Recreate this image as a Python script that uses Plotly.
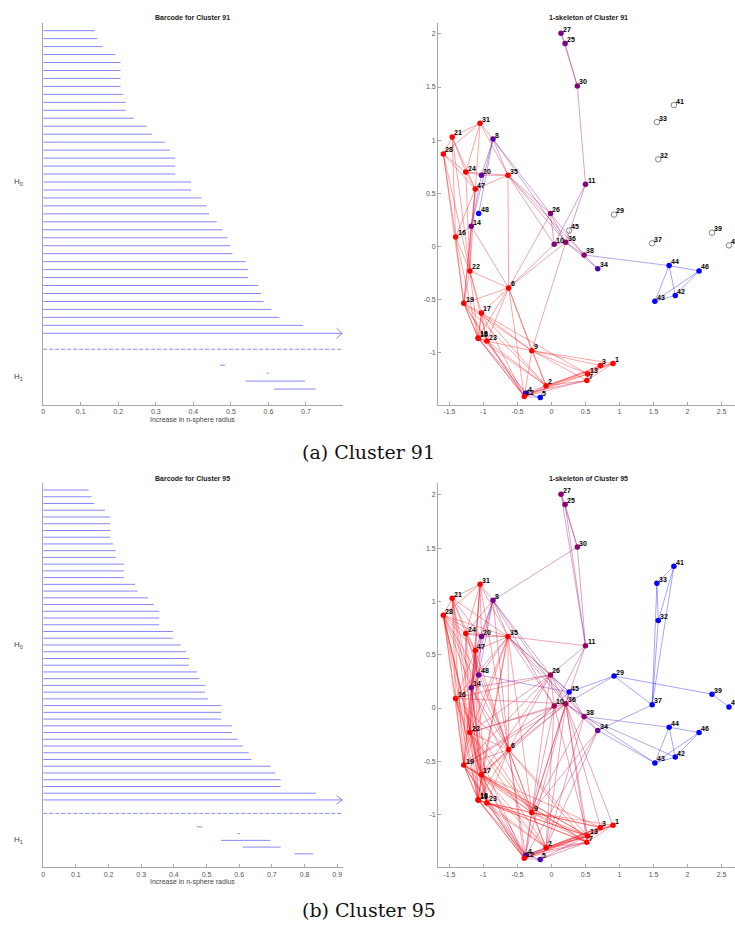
import math
import plotly.graph_objects as go

# ---------------- persistence barcodes ----------------
# H0 deaths (births are all 0); inf marks the bar that never dies
h0_deaths_91 = [0.137, 0.144, 0.158, 0.192, 0.206, 0.206, 0.206, 0.206, 0.213, 0.220,
                0.220, 0.241, 0.276, 0.290, 0.324, 0.338, 0.352, 0.352, 0.352, 0.394,
                0.394, 0.422, 0.435, 0.442, 0.462, 0.477, 0.491, 0.498, 0.504, 0.539,
                0.546, 0.546, 0.573, 0.580, 0.587, 0.608, 0.629, 0.692, math.inf]
h1_births_91 = [0.470, 0.595, 0.539, 0.615]
h1_deaths_91 = [0.484, 0.601, 0.698, 0.726]

h0_deaths_95 = [0.139, 0.148, 0.156, 0.189, 0.205, 0.205, 0.205, 0.205, 0.214, 0.222,
                0.222, 0.247, 0.247, 0.247, 0.281, 0.289, 0.321, 0.339, 0.355, 0.355,
                0.355, 0.397, 0.397, 0.421, 0.437, 0.446, 0.446, 0.470, 0.478, 0.495,
                0.495, 0.504, 0.545, 0.545, 0.545, 0.578, 0.578, 0.595, 0.611, 0.629,
                0.637, 0.695, 0.711, 0.727, 0.727, 0.835, math.inf]
h1_births_95 = [0.470, 0.595, 0.544, 0.611, 0.769]
h1_deaths_95 = [0.487, 0.603, 0.695, 0.727, 0.827]

radius_max_91 = 0.798
radius_max_95 = 0.917
radius_ticks_91 = [0, 0.1, 0.2, 0.3, 0.4, 0.5, 0.6, 0.7]
radius_ticks_95 = [0, 0.1, 0.2, 0.3, 0.4, 0.5, 0.6, 0.7, 0.8, 0.9]

# ---------------- 1-skeleton nodes ----------------
node_ids = list(range(1, 49))
node_x = [0.905, -0.08, 0.72, -0.38, -0.165, -0.63, 0.52, -0.86, -0.29, 0.04,
          0.50, -0.40, 0.53, -1.18, -1.075, -1.41, -1.03, -1.08, -1.29, -1.03,
          -1.46, -1.20, -0.95, -1.26, 0.20, -0.015, 0.14, -1.59, 0.92, 0.38,
          -1.05, 1.57, 1.55, 0.68, -0.64, 0.21, 1.48, 0.48, 2.36, 2.61,
          1.80, 1.82, 1.52, 1.73, 0.26, 2.17, -1.12, -1.07]
node_y = [-1.10, -1.31, -1.12, -1.38, -1.42, -0.39, -1.26, 1.01, -0.98, 0.02,
          0.585, -1.41, -1.20, 0.19, -0.865, 0.09, -0.625, -0.86, -0.535, 0.67,
          1.03, -0.23, -0.89, 0.70, 1.91, 0.31, 2.005, 0.87, 0.30, 1.51,
          1.16, 0.82, 1.17, -0.21, 0.67, 0.04, 0.03, -0.08, 0.13, 0.01,
          1.33, -0.46, -0.515, -0.18, 0.15, -0.23, 0.54, 0.31]

# red share of each node colour (1 = red, 0 = blue, None = not in any edge)
mix_91 = [1, 1, 1, 0.15, 0, 1, 1, 0.35, 1, 0.55,
          0.5, 1, 1, 0.45, 1, 1, 1, 1, 1, 0.35,
          1, 1, 1, 1, 0.5, 0.55, 0.5, 1, None, 0.5,
          1, None, None, 0.3, 1, 0.55, None, 0.55, None, None,
          None, 0, 0, 0, None, 0, 1, 0]
mix_95 = [1, 1, 1, 0.3, 0.3, 1, 1, 0.45, 1, 0.65,
          0.6, 1, 1, 0.45, 1, 1, 1, 1, 1, 0.45,
          1, 1, 1, 1, 0.55, 0.65, 0.55, 1, 0, 0.55,
          1, 0, 0, 0.4, 1, 0.65, 0, 0.55, 0, 0,
          0, 0, 0, 0, 0, 0, 1, 0.4]

edges_91 = [
    (31, 21), (31, 28), (31, 8), (31, 35), (31, 24), (31, 47),
    (21, 28), (21, 24), (21, 47), (21, 16), (21, 22),
    (28, 24), (28, 47), (28, 16), (28, 19), (28, 22),
    (8, 20), (8, 48), (8, 35), (8, 26), (8, 36), (8, 14),
    (24, 20), (24, 35), (24, 47), (24, 22),
    (20, 35), (20, 14),
    (35, 47), (35, 6), (35, 26), (35, 10), (35, 36), (35, 38),
    (47, 14), (47, 16), (47, 22), (47, 19),
    (14, 16), (14, 22), (14, 19), (14, 6),
    (16, 22), (16, 19), (16, 18),
    (22, 6), (22, 19), (22, 17), (22, 18), (22, 23),
    (6, 26), (6, 10), (6, 36), (6, 19), (6, 17), (6, 18), (6, 23), (6, 9), (6, 2), (6, 12),
    (19, 17), (19, 18), (19, 23), (19, 9), (19, 2), (19, 12),
    (17, 18), (17, 23), (17, 9), (17, 2), (17, 12), (17, 13),
    (18, 23), (18, 12), (18, 2), (18, 4),
    (15, 18), (15, 19), (15, 23), (15, 17), (15, 12),
    (23, 9), (23, 2), (23, 12), (23, 4),
    (9, 2), (9, 12), (9, 1), (9, 3), (9, 13), (9, 7), (9, 36),
    (2, 13), (2, 7), (2, 3), (2, 1), (2, 12), (2, 4), (2, 5),
    (12, 13), (12, 7), (12, 3), (12, 5), (4, 5), (4, 7),
    (13, 7), (13, 3), (13, 1), (7, 1), (7, 3), (3, 1),
    (26, 10), (26, 36), (26, 38), (10, 36), (11, 10), (11, 36), (11, 30),
    (30, 25), (30, 27), (25, 27),
    (36, 38), (36, 34), (38, 34), (38, 44),
    (44, 46), (44, 42), (44, 43), (46, 42), (46, 43), (42, 43),
]

edges_95_extra = [
    (30, 8), (35, 11), (27, 11), (25, 11), (26, 11),
    (21, 35), (21, 20), (28, 35), (28, 20), (31, 20), (31, 14), (8, 47), (8, 24),
    (8, 6), (8, 10), (20, 47), (20, 48), (24, 48), (47, 48), (28, 14), (21, 14), (28, 48),
    (31, 6), (31, 22), (24, 6), (24, 19), (24, 17), (21, 19), (21, 17), (28, 17),
    (28, 18), (28, 23), (28, 6),
    (47, 6), (47, 17), (47, 18), (47, 23), (16, 17), (16, 23), (16, 9), (16, 6),
    (14, 17), (14, 18), (14, 23), (14, 9), (48, 6), (48, 22),
    (35, 19), (35, 17), (35, 22), (35, 18), (35, 16), (35, 9), (35, 14), (35, 45),
    (36, 22), (36, 19), (36, 17), (36, 9), (36, 2), (36, 12), (36, 16), (36, 1),
    (36, 13), (36, 7), (36, 3),
    (10, 22), (10, 19), (10, 9), (10, 17), (10, 2), (10, 13),
    (26, 22), (26, 9), (26, 19), (26, 17), (26, 16), (26, 45), (26, 14),
    (34, 9), (34, 12), (34, 2), (34, 43), (38, 42), (36, 43), (38, 9), (38, 2),
    (6, 4), (6, 13), (6, 7), (9, 4), (22, 9), (22, 2), (19, 4), (17, 4),
    (23, 13), (23, 7), (23, 3), (18, 13), (18, 7), (19, 13), (19, 7), (17, 7),
    (17, 3), (22, 12), (5, 7), (5, 13), (4, 13), (12, 1), (4, 3),
    (33, 41), (33, 32), (41, 32), (33, 37), (41, 37), (32, 37), (29, 45), (29, 37),
    (29, 39), (39, 40), (29, 36), (37, 34), (48, 45), (45, 36), (45, 10), (45, 38),
]
edges_95 = edges_91 + edges_95_extra

# ---------------- page geometry (pixels) ----------------
W, H = 735, 929
BAR_X0, BAR_X1 = 41.3, 341.7
SK_X0 = 437.3
ROW_TOP = [(22.7, 405.0), (483.3, 867.3)]

BAR_BLUE = "rgb(135,135,252)"
AXIS_GREY = "#a6a6a6"
TICK_FONT = dict(family="Liberation Sans, Arial, sans-serif", size=7, color="#555555")


def fx(p):
    return p / W


def fy(p):
    return 1 - p / H


def mix_colour(t, alpha=None):
    r, b = round(255 * t), round(255 * (1 - t))
    if alpha is None:
        return f"rgb({r},0,{b})"
    return f"rgba({r},0,{b},{alpha})"


def num_text(v):
    return f"{v:g}"


fig = go.Figure()
annotations = []


def add_barcode(ax, h0_deaths, h1_births, h1_deaths, rmax, ticks, row, title):
    xa, ya = f"x{ax}", f"y{ax}"
    n0 = len(h0_deaths)
    sep = n0 + 2
    first_h1 = sep + 2
    n_slots = first_h1 + len(h1_births)

    xs, ys = [], []
    for i, d in enumerate(h0_deaths):
        s = i + 1
        end = rmax if math.isinf(d) else d
        xs += [0, end, None]
        ys += [s, s, None]
    for j, (b, d) in enumerate(zip(h1_births, h1_deaths)):
        s = first_h1 + j
        xs += [b, d, None]
        ys += [s, s, None]
    fig.add_trace(go.Scatter(x=xs, y=ys, mode="lines", xaxis=xa, yaxis=ya,
                             line=dict(color=BAR_BLUE, width=1), hoverinfo="skip",
                             showlegend=False))
    # chevron at the end of every infinite bar
    dx = 5.7 / (BAR_X1 - BAR_X0) * rmax
    for i, d in enumerate(h0_deaths):
        if math.isinf(d):
            s = i + 1
            tip = rmax * 0.998
            fig.add_trace(go.Scatter(x=[tip - dx, tip, tip - dx], y=[s - 0.65, s, s + 0.65],
                                     mode="lines", xaxis=xa, yaxis=ya,
                                     line=dict(color=BAR_BLUE, width=1),
                                     hoverinfo="skip", showlegend=False))
    # dashed separator between dimensions
    fig.add_trace(go.Scatter(x=[0, rmax], y=[sep, sep], mode="lines", xaxis=xa, yaxis=ya,
                             line=dict(color=BAR_BLUE, width=1, dash="4px,2px"),
                             hoverinfo="skip", showlegend=False))

    top, bot = ROW_TOP[row]
    key = "" if ax == 1 else str(ax)
    fig.update_layout(**{
        f"xaxis{key}": dict(domain=[fx(BAR_X0), fx(BAR_X1)], range=[0, rmax],
                            anchor=ya, showline=True, linecolor=AXIS_GREY, linewidth=1,
                            ticks="inside", ticklen=3, tickcolor=AXIS_GREY,
                            tickvals=ticks, ticktext=[num_text(t) for t in ticks],
                            tickfont=TICK_FONT, showgrid=False, zeroline=False),
        f"yaxis{key}": dict(domain=[fy(bot), fy(top)], range=[n_slots + 1, 0],
                            anchor=xa, showline=True, linecolor=AXIS_GREY, linewidth=1,
                            ticks="", showticklabels=False, showgrid=False, zeroline=False),
    })
    # labels: title, axis title, homology dimensions
    slot_px = (bot - top) / (n_slots + 1)
    mid_h0 = top + slot_px * (1 + n0) / 2
    mid_h1 = top + slot_px * (first_h1 + n_slots - 1) / 2
    cx = (BAR_X0 + BAR_X1) / 2
    annotations.append(dict(text=f"<b>{title}</b>", x=fx(cx), y=fy(top - 5), xref="paper",
                            yref="paper", showarrow=False, xanchor="center", yanchor="middle",
                            font=dict(family="Liberation Sans, Arial", size=7, color="#222222")))
    annotations.append(dict(text="Increase in n-sphere radius", x=fx(cx), y=fy(bot + 15),
                            xref="paper", yref="paper", showarrow=False, xanchor="center",
                            yanchor="middle",
                            font=dict(family="Liberation Sans, Arial", size=7, color="#444444")))
    for lab, yy in (("H<sub>0</sub>", mid_h0), ("H<sub>1</sub>", mid_h1)):
        annotations.append(dict(text=lab, x=fx(10), y=fy(yy), xref="paper", yref="paper",
                                showarrow=False, xanchor="left", yanchor="middle",
                                font=dict(family="Liberation Sans, Arial", size=8,
                                          color="#444444")))


def add_skeleton(ax, mix, edges, row, title, yrange):
    xa, ya = f"x{ax}", f"y{ax}"
    idx = {n: i for i, n in enumerate(node_ids)}
    groups = {}
    for a, b in edges:
        ta, tb = mix[idx[a]], mix[idx[b]]
        t = round(((ta + tb) / 2) * 20) / 20
        g = groups.setdefault(t, ([], []))
        g[0].extend([node_x[idx[a]], node_x[idx[b]], None])
        g[1].extend([node_y[idx[a]], node_y[idx[b]], None])
    for t, (xs, ys) in sorted(groups.items()):
        fig.add_trace(go.Scatter(x=xs, y=ys, mode="lines", xaxis=xa, yaxis=ya,
                                 line=dict(color=mix_colour(t, 0.45), width=0.8),
                                 hoverinfo="skip", showlegend=False))
    # filled nodes and isolated (open) nodes
    fx_, fy_, fc = [], [], []
    hx, hy = [], []
    for i, n in enumerate(node_ids):
        if mix[i] is None:
            hx.append(node_x[i]); hy.append(node_y[i])
        else:
            fx_.append(node_x[i]); fy_.append(node_y[i]); fc.append(mix_colour(mix[i]))
    fig.add_trace(go.Scatter(x=fx_, y=fy_, mode="markers", xaxis=xa, yaxis=ya,
                             marker=dict(size=5.5, color=fc, line=dict(width=0)),
                             hoverinfo="skip", showlegend=False, cliponaxis=False))
    if hx:
        fig.add_trace(go.Scatter(x=hx, y=hy, mode="markers", xaxis=xa, yaxis=ya,
                                 marker=dict(size=5.5, symbol="circle-open",
                                             color="#666666", line=dict(width=0.8)),
                                 hoverinfo="skip", showlegend=False, cliponaxis=False))
    for i, n in enumerate(node_ids):
        annotations.append(dict(text=f"<b>{n}</b>", x=node_x[i], y=node_y[i],
                                xref=xa, yref=ya, showarrow=False, xanchor="left",
                                yanchor="middle", xshift=0, yshift=4,
                                font=dict(family="Liberation Sans, Arial", size=7,
                                          color="#000000")))

    top, bot = ROW_TOP[row]
    key = str(ax)
    x_lo = -1.667
    x_hi = x_lo + (W - SK_X0) / 68.2
    xt = [-1.5, -1, -0.5, 0, 0.5, 1, 1.5, 2, 2.5]
    yt = [-1, -0.5, 0, 0.5, 1, 1.5, 2]
    common = dict(showline=True, linecolor=AXIS_GREY, linewidth=1, ticks="inside",
                  ticklen=3, tickcolor=AXIS_GREY, tickfont=TICK_FONT, showgrid=False,
                  zeroline=False)
    fig.update_layout(**{
        f"xaxis{key}": dict(domain=[fx(SK_X0), 1.0], range=[x_lo, x_hi], anchor=ya,
                            tickvals=xt, ticktext=[num_text(v) for v in xt], **common),
        f"yaxis{key}": dict(domain=[fy(bot), fy(top)], range=yrange, anchor=xa,
                            tickvals=yt, ticktext=[num_text(v) for v in yt], **common),
    })
    annotations.append(dict(text=f"<b>{title}</b>", x=fx(587.7), y=fy(top - 5),
                            xref="paper", yref="paper", showarrow=False, xanchor="center",
                            yanchor="middle",
                            font=dict(family="Liberation Sans, Arial", size=7, color="#222222")))


add_barcode(1, h0_deaths_91, h1_births_91, h1_deaths_91, radius_max_91, radius_ticks_91,
            0, "Barcode for Cluster 91")
add_skeleton(2, mix_91, edges_91, 0, "1-skeleton of Cluster 91", [-1.491, 2.105])
add_barcode(3, h0_deaths_95, h1_births_95, h1_deaths_95, radius_max_95, radius_ticks_95,
            1, "Barcode for Cluster 95")
add_skeleton(4, mix_95, edges_95, 1, "1-skeleton of Cluster 95", [-1.494, 2.108])

# sub-figure captions
for cap, yy in (("(a) Cluster 91", 452), ("(b) Cluster 95", 910)):
    annotations.append(dict(text=cap, x=fx(367.5), y=fy(yy), xref="paper", yref="paper",
                            showarrow=False, xanchor="center", yanchor="middle",
                            font=dict(family="DejaVu Serif, serif", size=19, color="#111111")))

fig.update_layout(width=W, height=H, margin=dict(l=0, r=0, t=0, b=0),
                  paper_bgcolor="white", plot_bgcolor="white", showlegend=False,
                  annotations=annotations)

fig.write_html("out.html")
